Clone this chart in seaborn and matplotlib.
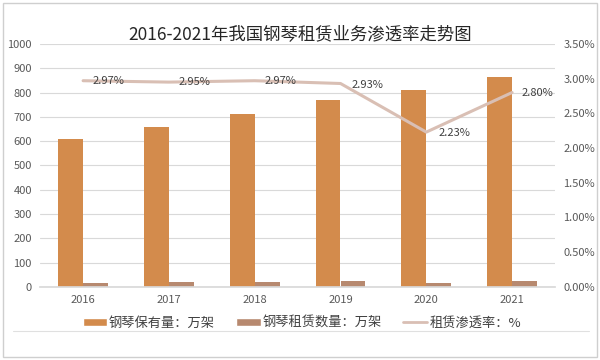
import numpy as np
import pandas as pd
import matplotlib
matplotlib.use('Agg')
import matplotlib.pyplot as plt
import seaborn as sns
from matplotlib.patches import Rectangle, Patch
from matplotlib.lines import Line2D

# data
years = ['2016', '2017', '2018', '2019', '2020', '2021']
pianos_owned = [610, 660, 712, 770, 812, 865]        # 钢琴保有量：万架
pianos_rented = [18.1, 19.5, 21.1, 22.6, 18.1, 24.2]  # 钢琴租赁数量：万架
rent_rate = [2.97, 2.95, 2.97, 2.93, 2.23, 2.80]      # 租赁渗透率：%

name_owned = '钢琴保有量：万架'
name_rented = '钢琴租赁数量：万架'
name_rate = '租赁渗透率：%'

c_owned = '#d38b4c'
c_rented = '#b7896f'
c_rate = '#d9bfb4'

sns.set_theme(style='white')
plt.rcParams['font.family'] = ['Noto Sans CJK SC', 'DejaVu Sans']

df = pd.DataFrame({
    'year': years * 2,
    'value': pianos_owned + pianos_rented,
    'series': [name_owned] * len(years) + [name_rented] * len(years),
})

fig = plt.figure(figsize=(6, 3.6), dpi=100)
ax = fig.add_axes([0.067, 0.203, 0.858, 0.675])

sns.barplot(data=df, x='year', y='value', hue='series', order=years,
            palette=[c_owned, c_rented], width=0.58, gap=0,
            saturation=1, linewidth=0, ax=ax, legend=False)

ax.set_ylim(0, 1000)
ax.set_yticks(np.arange(0, 1001, 100))
ax.set_xlim(-0.5, len(years) - 0.5)
ax.yaxis.grid(True, color='#d9d9d9', linewidth=0.8)
ax.set_axisbelow(True)
for s in ['top', 'right', 'left']:
    ax.spines[s].set_visible(False)
ax.spines['bottom'].set_color('#d9d9d9')
ax.tick_params(axis='both', length=0, labelsize=8, labelcolor='#595959', pad=6)
ax.set_xlabel('')
ax.set_ylabel('')

# penetration rate on secondary axis
ax2 = ax.twinx()
xpos = np.arange(len(years))
sns.lineplot(x=xpos, y=rent_rate, ax=ax2, color=c_rate, linewidth=2.2)
ax2.set_ylim(0, 3.5)
ax2.set_yticks(np.arange(0, 3.51, 0.5))
ax2.set_yticklabels([f'{v:.2f}%' for v in np.arange(0, 3.51, 0.5)])
ax2.tick_params(axis='y', length=0, labelsize=8, labelcolor='#595959', pad=6)
for s in ax2.spines.values():
    s.set_visible(False)
ax2.set_ylabel('')

label_offsets = [(7, 0), (7, 0), (7, 0), (8, -1), (9, -1), (7, 0)]
for i, v in enumerate(rent_rate):
    ax2.annotate(f'{v:.2f}%', (i, v), xytext=label_offsets[i], textcoords='offset points',
                 fontsize=8, color='#404040', va='center', ha='left')

fig.text(0.5, 0.905, '2016-2021年我国钢琴租赁业务渗透率走势图', ha='center', va='center',
         fontsize=12.5, color='#262626')

handles = [Patch(facecolor=c_owned, label=name_owned),
           Patch(facecolor=c_rented, label=name_rented),
           Line2D([0], [0], color=c_rate, linewidth=2, label=name_rate)]
fig.legend(handles=handles, loc='center', bbox_to_anchor=(0.503, 0.102), ncol=3,
           frameon=False, fontsize=9.5, handlelength=1.85, handleheight=0.55,
           handletextpad=0.15, columnspacing=1.6, labelcolor='#404040')

# frame and bottom separator like the source image
fig.add_artist(Rectangle((0.005, 0.008), 0.99, 0.985, transform=fig.transFigure,
                         fill=False, edgecolor='#cfcfcf', linewidth=1))
fig.add_artist(Line2D([0.022, 0.982], [0.08, 0.08], transform=fig.transFigure,
                      color='#e0e0e0', linewidth=0.8))

fig.savefig('out.png', dpi=100)
